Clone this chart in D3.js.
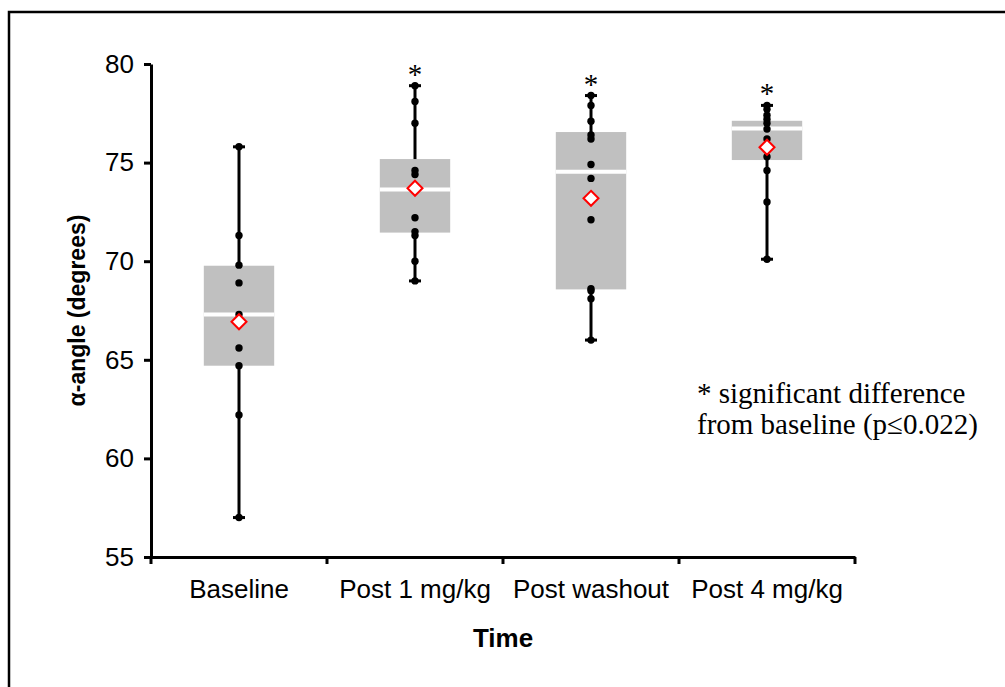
<!DOCTYPE html>
<html>
<head>
<meta charset="utf-8">
<script src="https://cdn.jsdelivr.net/npm/d3@7"></script>
<style>
  body { margin: 0; background: #fff; }
  svg { display: block; }
</style>
</head>
<body>
<div id="chart"></div>
<script>
// chart values
const categories = ["Baseline", "Post 1 mg/kg", "Post washout", "Post 4 mg/kg"];
const q1Values = [64.7, 71.45, 68.57, 75.13];
const medianValues = [67.3, 73.64, 74.54, 76.73];
const q3Values = [69.77, 75.18, 76.55, 77.12];
const meanValues = [66.93, 73.7, 73.19, 75.78];
const baselinePoints = [75.8, 71.3, 69.8, 68.9, 67.3, 65.6, 64.7, 62.2, 57.0];
const post1Points = [78.9, 78.1, 77.0, 74.6, 74.4, 73.6, 72.2, 71.5, 71.3, 70.0, 69.0];
const washoutPoints = [78.4, 77.9, 77.1, 76.4, 76.2, 74.9, 74.2, 72.1, 68.6, 68.5, 68.1, 66.0];
const post4Points = [77.9, 77.7, 77.4, 77.2, 77.0, 76.7, 76.2, 75.3, 74.6, 73.0, 70.1];
const significant = [false, true, true, true];
const yTicks = [55, 60, 65, 70, 75, 80];
const noteLines = ["* significant difference", "from baseline (p\u22640.022)"];

const allPoints = [baselinePoints, post1Points, washoutPoints, post4Points];
const groups = categories.map((c, i) => ({
    name: c,
    q1: q1Values[i],
    median: medianValues[i],
    q3: q3Values[i],
    mean: meanValues[i],
    points: allPoints[i],
    extent: d3.extent(allPoints[i]),
    sig: significant[i]
}));

const width = 1005, height = 687;
const sans = "'Liberation Sans', Arial, sans-serif";
const serif = "'Liberation Serif', 'Times New Roman', serif";

const svg = d3.select("#chart").append("svg")
    .attr("width", width)
    .attr("height", height);

// outer frame (runs off the right and bottom edge)
svg.append("rect")
    .attr("x", 9).attr("y", 12)
    .attr("width", 1100).attr("height", 800)
    .attr("fill", "none")
    .attr("stroke", "#000")
    .attr("stroke-width", 2.5);

const plot = { left: 151, right: 855, top: 64, bottom: 557 };

const x = d3.scaleBand().domain(categories).range([plot.left, plot.right]).padding(0);
const y = d3.scaleLinear().domain([55, 80]).range([plot.bottom, plot.top]);
const boxW = x.bandwidth() * 0.4;
const cx = d => x(d.name) + x.bandwidth() / 2;

// y axis
const yAxis = svg.append("g")
    .attr("transform", `translate(${plot.left},0)`)
    .call(d3.axisLeft(y).tickValues(yTicks).tickSize(7).tickPadding(10).tickSizeOuter(0));
yAxis.select(".domain").attr("stroke-width", 3);
yAxis.selectAll(".tick line").attr("stroke-width", 3);
yAxis.selectAll("text")
    .style("font-family", sans)
    .style("font-size", "26px")
    .attr("fill", "#000");

// x axis: labels centred in bands, ticks on band edges
const xAxis = svg.append("g")
    .attr("transform", `translate(0,${plot.bottom})`)
    .call(d3.axisBottom(x).tickSize(0).tickSizeOuter(0));
xAxis.select(".domain").attr("stroke-width", 3);
xAxis.selectAll("text")
    .attr("y", 41).attr("dy", null)
    .style("font-family", sans)
    .style("font-size", "26px")
    .attr("fill", "#000");
xAxis.selectAll(".edge")
    .data(categories.map(c => x(c)).concat([x.range()[1]]))
    .enter().append("line")
    .attr("class", "edge")
    .attr("x1", d => d).attr("x2", d => d)
    .attr("y1", 0).attr("y2", 7)
    .attr("stroke", "#000")
    .attr("stroke-width", 3);

// axis titles
svg.append("text")
    .attr("x", (plot.left + plot.right) / 2)
    .attr("y", 647)
    .attr("text-anchor", "middle")
    .style("font-family", sans)
    .style("font-size", "26px")
    .style("font-weight", "bold")
    .text("Time");

svg.append("text")
    .attr("transform", `translate(85,${(plot.top + plot.bottom) / 2}) rotate(-90)`)
    .attr("text-anchor", "middle")
    .style("font-family", sans)
    .style("font-size", "23px")
    .style("font-weight", "bold")
    .text("\u03b1-angle (degrees)");

// whiskers
const g = svg.selectAll(".grp")
    .data(groups)
    .enter().append("g")
    .attr("class", "grp");

g.append("line")
    .attr("x1", cx).attr("x2", cx)
    .attr("y1", d => y(d.extent[0]))
    .attr("y2", d => y(d.extent[1]))
    .attr("stroke", "#000")
    .attr("stroke-width", 3);

g.selectAll(".cap")
    .data(d => d.extent.map(v => ({ cx: cx(d), v })))
    .enter().append("line")
    .attr("class", "cap")
    .attr("x1", d => d.cx - 6).attr("x2", d => d.cx + 6)
    .attr("y1", d => y(d.v)).attr("y2", d => y(d.v))
    .attr("stroke", "#000")
    .attr("stroke-width", 3);

// boxes
g.append("rect")
    .attr("x", d => cx(d) - boxW / 2)
    .attr("y", d => y(d.q3))
    .attr("width", boxW)
    .attr("height", d => y(d.q1) - y(d.q3))
    .attr("fill", "#c0c0c0");

g.append("line")
    .attr("x1", d => cx(d) - boxW / 2)
    .attr("x2", d => cx(d) + boxW / 2)
    .attr("y1", d => y(d.median))
    .attr("y2", d => y(d.median))
    .attr("stroke", "#fff")
    .attr("stroke-width", 4);

// individual values
g.selectAll(".pt")
    .data(d => d.points.map(v => ({ cx: cx(d), v })))
    .enter().append("circle")
    .attr("class", "pt")
    .attr("cx", d => d.cx)
    .attr("cy", d => y(d.v))
    .attr("r", 3.7)
    .attr("fill", "#000");

// means
const dm = 7.5;
g.append("path")
    .attr("d", d => {
        const px = cx(d), py = y(d.mean);
        return `M${px},${py - dm}L${px + dm},${py}L${px},${py + dm}L${px - dm},${py}Z`;
    })
    .attr("fill", "#fff")
    .attr("stroke", "#ff0000")
    .attr("stroke-width", 2);

// significance markers
g.filter(d => d.sig).append("text")
    .attr("x", cx)
    .attr("y", d => y(d.extent[1]) - 2)
    .attr("text-anchor", "middle")
    .style("font-family", serif)
    .style("font-size", "29px")
    .text("*");

// note
svg.append("g").selectAll("text")
    .data(noteLines)
    .enter().append("text")
    .attr("x", 697)
    .attr("y", (d, i) => 403 + i * 31)
    .style("font-family", serif)
    .style("font-size", "29px")
    .text(d => d);
</script>
</body>
</html>
